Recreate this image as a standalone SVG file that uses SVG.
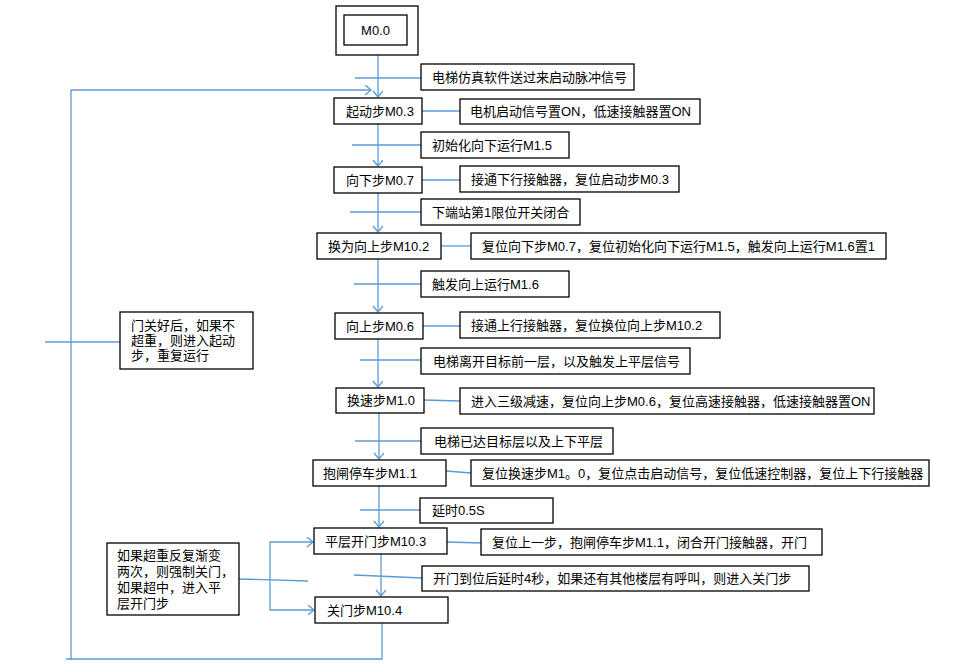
<svg xmlns="http://www.w3.org/2000/svg" width="962" height="672" viewBox="0 0 962 672">
<style>
.b{fill:#fff;stroke:#000;stroke-width:1.3}
.t{font-family:"Liberation Sans","Noto Sans CJK SC",sans-serif;font-size:13px;fill:#000}
.c{fill:none;stroke:#5B9BD5;stroke-width:1.3}
.a{marker-end:url(#ar)}
</style>
<defs>
<marker id="ar" markerUnits="userSpaceOnUse" markerWidth="12" markerHeight="12" refX="7" refY="5" orient="auto">
<path d="M1,0 L7,5 L1,10" fill="none" stroke="#5B9BD5" stroke-width="1.3"/>
</marker>
</defs>
<rect width="962" height="672" fill="#fff"/>
<g id="connectors">
<path class="c a" d="M378,55 V97"/>
<path class="c a" d="M378,124 V166"/>
<path class="c a" d="M378,193 V232"/>
<path class="c a" d="M378,259 V312"/>
<path class="c a" d="M378,339 V387"/>
<path class="c a" d="M379,413 V459"/>
<path class="c a" d="M379,486 V527"/>
<path class="c a" d="M381,554 V596"/>
<path class="c" d="M382,623 V659 H66"/>
<path class="c a" d="M71,660 V90 H371"/>
<path class="c" d="M355,78 H421"/>
<path class="c" d="M422,111 H460"/>
<path class="c" d="M352,145 H421"/>
<path class="c" d="M422,180 H460"/>
<path class="c" d="M350,212 H421"/>
<path class="c" d="M441,246 H471"/>
<path class="c" d="M354,284 H421"/>
<path class="c" d="M423,326 H460"/>
<path class="c" d="M360,360 H421"/>
<path class="c" d="M424,400 L460,401"/>
<path class="c" d="M355,441 H421"/>
<path class="c" d="M446,471 L471,473"/>
<path class="c" d="M360,510 H420"/>
<path class="c" d="M447,542 L481,543"/>
<path class="c" d="M354,575 L422,578"/>
<path class="c" d="M45,342 H120"/>
<path class="c" d="M239,579 L308,581"/>
<path class="c a" d="M270,576 V542 H313"/>
<path class="c a" d="M270,576 V610 H314"/>
</g>
<g id="n_m00"><rect class="b" x="336" y="6" width="82" height="49"/><rect class="b" x="344" y="15" width="63" height="30"/><text class="t" x="375.5" y="35" text-anchor="middle">M0.0</text></g>
<g id="l_start"><rect class="b" x="421" y="64" width="213" height="26"/><text class="t" x="432" y="81.5">电梯仿真软件送过来启动脉冲信号</text></g>
<g id="n_m03"><rect class="b" x="334" y="98" width="88" height="26"/><text class="t" x="346" y="115.5">起动步M0.3</text></g>
<g id="d_m03"><rect class="b" x="460" y="99" width="240" height="25"/><text class="t" x="470" y="116">电机启动信号置ON，低速接触器置ON</text></g>
<g id="l_m15"><rect class="b" x="421" y="132" width="148" height="26"/><text class="t" x="432" y="149.5">初始化向下运行M1.5</text></g>
<g id="n_m07"><rect class="b" x="334" y="167" width="88" height="26"/><text class="t" x="346" y="184.5">向下步M0.7</text></g>
<g id="d_m07"><rect class="b" x="460" y="166" width="219" height="26"/><text class="t" x="471" y="183.5">接通下行接触器，复位启动步M0.3</text></g>
<g id="l_limit"><rect class="b" x="421" y="199" width="159" height="26"/><text class="t" x="432" y="216.5">下端站第1限位开关闭合</text></g>
<g id="n_m102"><rect class="b" x="317" y="233" width="124" height="26"/><text class="t" x="328" y="250.5">换为向上步M10.2</text></g>
<g id="d_m102"><rect class="b" x="471" y="233" width="415" height="26"/><text class="t" x="482" y="250.5">复位向下步M0.7，复位初始化向下运行M1.5，触发向上运行M1.6置1</text></g>
<g id="l_m16"><rect class="b" x="421" y="271" width="148" height="26"/><text class="t" x="432" y="288.5">触发向上运行M1.6</text></g>
<g id="n_m06"><rect class="b" x="335" y="313" width="88" height="26"/><text class="t" x="346" y="330.5">向上步M0.6</text></g>
<g id="d_m06"><rect class="b" x="460" y="312" width="260" height="26"/><text class="t" x="471" y="329.5">接通上行接触器，复位换位向上步M10.2</text></g>
<g id="l_prev"><rect class="b" x="421" y="348" width="269" height="26"/><text class="t" x="433" y="365.5">电梯离开目标前一层，以及触发上平层信号</text></g>
<g id="n_m10"><rect class="b" x="336" y="388" width="88" height="25"/><text class="t" x="347" y="405">换速步M1.0</text></g>
<g id="d_m10"><rect class="b" x="460" y="388" width="414" height="26"/><text class="t" x="471" y="405.5">进入三级减速，复位向上步M0.6，复位高速接触器，低速接触器置ON</text></g>
<g id="l_arrive"><rect class="b" x="421" y="428" width="192" height="26"/><text class="t" x="434" y="445.5">电梯已达目标层以及上下平层</text></g>
<g id="n_m11"><rect class="b" x="313" y="460" width="133" height="26"/><text class="t" x="323" y="477.5">抱闸停车步M1.1</text></g>
<g id="d_m11"><rect class="b" x="471" y="460" width="458" height="26"/><text class="t" x="482" y="477.5">复位换速步M1。0，复位点击启动信号，复位低速控制器，复位上下行接触器</text></g>
<g id="l_delay"><rect class="b" x="420" y="498" width="133" height="25"/><text class="t" x="432" y="515">延时0.5S</text></g>
<g id="n_m103"><rect class="b" x="314" y="528" width="133" height="26"/><text class="t" x="325" y="545.5">平层开门步M10.3</text></g>
<g id="d_m103"><rect class="b" x="481" y="529" width="341" height="26"/><text class="t" x="492" y="546.5">复位上一步，抱闸停车步M1.1，闭合开门接触器，开门</text></g>
<g id="l_door"><rect class="b" x="422" y="566" width="387" height="25"/><text class="t" x="433" y="583">开门到位后延时4秒，如果还有其他楼层有呼叫，则进入关门步</text></g>
<g id="n_m104"><rect class="b" x="315" y="597" width="133" height="26"/><text class="t" x="327" y="614.5">关门步M10.4</text></g>
<g id="note_restart"><rect class="b" x="120" y="312" width="133" height="57"/><text class="t" x="131" y="330">门关好后，如果不</text><text class="t" x="131" y="345">超重，则进入起动</text><text class="t" x="131" y="360">步，重复运行</text></g>
<g id="note_overload"><rect class="b" x="107" y="543" width="132" height="72"/><text class="t" x="117" y="560">如果超重反复渐变</text><text class="t" x="117" y="576">两次，则强制关门，</text><text class="t" x="117" y="592">如果超中，进入平</text><text class="t" x="117" y="608">层开门步</text></g>
</svg>
